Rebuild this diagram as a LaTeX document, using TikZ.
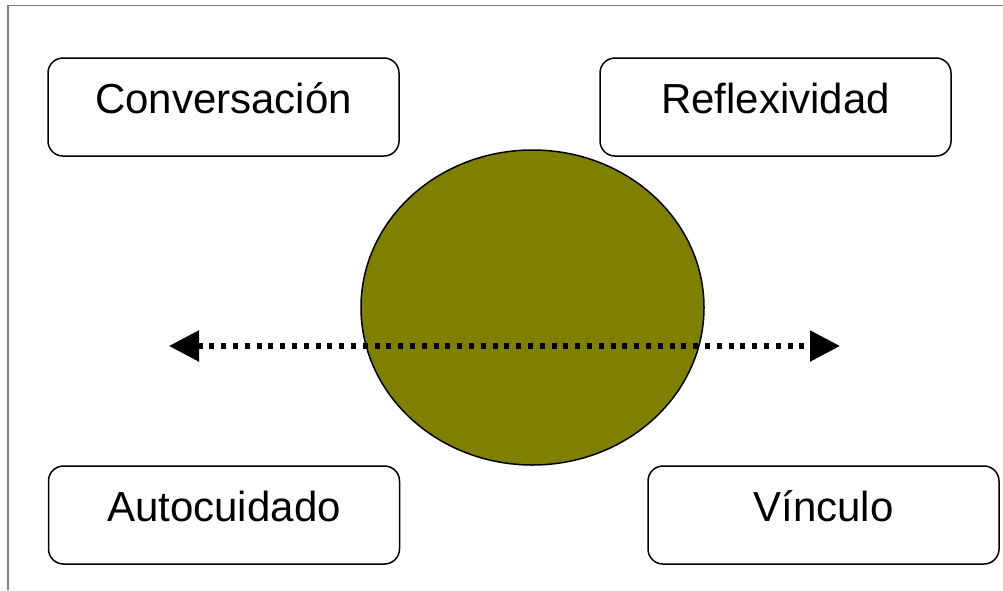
\documentclass[tikz,border=0pt]{standalone}
\usepackage{fontspec}
\setmainfont{Liberation Sans}
\usetikzlibrary{shapes.geometric,arrows.meta}

\tikzset{
  caja/.style={draw, rounded corners=15pt, line width=1.5pt, inner sep=0pt,
    minimum width=351pt, minimum height=98pt, text height=33pt, text depth=20pt,
    font=\fontsize{42}{50}\selectfont},
  marco/.style={draw=gray, line width=1.5pt},
  punteada/.style={line width=5.5pt, dash pattern=on 5pt off 6.8pt,
    {Triangle[length=30pt,width=30pt]}-{Triangle[length=30pt,width=30pt]}}
}

\begin{document}
\begin{tikzpicture}[x=1pt,y=-1pt]
        \useasboundingbox (0,0) rectangle (1003,590);
        % Draw frame
        \draw [marco] (1003,5.5) -- (8,5.5) -- (8,590);
        % Central ellipse
        \node [ellipse, draw, fill={rgb,255:red,128;green,128;blue,0}, line width=1.5pt,
               minimum width=343pt, minimum height=315pt] (circulo) at (532.5,307.5) {};
        % Boxes
        \node [caja] (conversacion) at (223.5,107) {Conversación};
        \node [caja] (reflexividad) at (775.5,107) {Reflexividad};
        \node [caja] (autocuidado) at (224,515) {Autocuidado};
        \node [caja] (vinculo) at (823.5,515) {Vínculo};
        % Dotted double arrow
        \coordinate (izq) at (169,346);
        \coordinate (der) at (840,346);
        \draw [punteada] (izq) -- (der);
\end{tikzpicture}
\end{document}
